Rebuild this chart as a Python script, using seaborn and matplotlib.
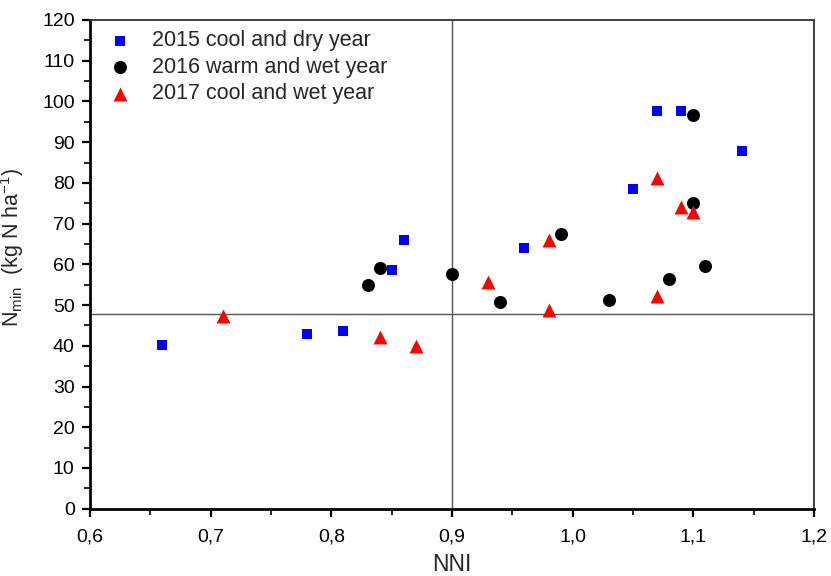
import matplotlib
matplotlib.use("Agg")
import matplotlib.pyplot as plt
import seaborn as sns
import pandas as pd
from matplotlib.ticker import MultipleLocator

# ---- data ----
series_labels = ["2015 cool and dry year", "2016 warm and wet year", "2017 cool and wet year"]

nni_2015 = [0.66, 0.78, 0.81, 0.85, 0.86, 0.96, 1.05, 1.07, 1.09, 1.14]
nmin_2015 = [40.2, 43.0, 43.7, 58.6, 66.0, 64.1, 78.6, 97.7, 97.7, 87.8]

nni_2016 = [0.83, 0.84, 0.90, 0.94, 0.99, 1.03, 1.08, 1.10, 1.10, 1.11]
nmin_2016 = [55.0, 59.1, 57.6, 50.7, 67.4, 51.3, 56.4, 96.6, 75.1, 59.7]

nni_2017 = [0.71, 0.84, 0.87, 0.93, 0.98, 0.98, 1.07, 1.07, 1.09, 1.10]
nmin_2017 = [47.3, 42.1, 40.0, 55.6, 66.0, 48.8, 81.2, 52.3, 74.2, 72.8]

ref_nni = 0.9
ref_nmin = 47.8

x_ticks = [0.6, 0.7, 0.8, 0.9, 1.0, 1.1, 1.2]
x_tick_labels = ["0,6", "0,7", "0,8", "0,9", "1,0", "1,1", "1,2"]
y_ticks = [0, 10, 20, 30, 40, 50, 60, 70, 80, 90, 100, 110, 120]
y_tick_labels = [str(v) for v in y_ticks]

# ---- style ----
sns.set_style("ticks")
plt.rcParams["font.family"] = ["Liberation Sans", "DejaVu Sans"]
plt.rcParams["mathtext.fontset"] = "custom"
plt.rcParams["mathtext.rm"] = "Liberation Sans"
plt.rcParams["mathtext.it"] = "Liberation Sans:italic"

df = pd.concat([
    pd.DataFrame({"NNI": nni_2015, "Nmin": nmin_2015, "series": series_labels[0]}),
    pd.DataFrame({"NNI": nni_2016, "Nmin": nmin_2016, "series": series_labels[1]}),
    pd.DataFrame({"NNI": nni_2017, "Nmin": nmin_2017, "series": series_labels[2]}),
])

styles = {
    series_labels[0]: dict(marker="s", color="#0000FF", s=62),
    series_labels[1]: dict(marker="o", color="#000000", s=88),
    series_labels[2]: dict(marker="^", color="#FF0000", s=100),
}

fig = plt.figure(figsize=(8.31, 5.76), dpi=100)
ax = fig.add_axes([90 / 831, 1 - 508.7 / 576, (814 - 90) / 831, (508.7 - 20) / 576])

ax.axvline(ref_nni, color="#555555", lw=1.0, zorder=1)
ax.axhline(ref_nmin, color="#555555", lw=1.0, zorder=1)

for lab in series_labels:
    sub = df[df["series"] == lab]
    st = styles[lab]
    sns.scatterplot(data=sub, x="NNI", y="Nmin", marker=st["marker"], color=st["color"],
                    s=st["s"], linewidth=0, label=lab, ax=ax, zorder=3)

ax.set_xlim(0.6, 1.2)
ax.set_ylim(0, 120)
ax.set_xticks(x_ticks)
ax.set_xticklabels(x_tick_labels)
ax.set_yticks(y_ticks)
ax.set_yticklabels(y_tick_labels)
ax.xaxis.set_minor_locator(MultipleLocator(0.05))
ax.yaxis.set_minor_locator(MultipleLocator(5))
ax.tick_params(which="major", direction="out", length=6, width=1.6, labelsize=14, colors="black", pad=5)
ax.tick_params(axis="x", which="major", pad=8)
ax.tick_params(which="minor", direction="out", length=4, width=1.4)
ax.tick_params(top=False, right=False, which="both")

for side in ["left", "bottom"]:
    ax.spines[side].set_linewidth(2.0)
    ax.spines[side].set_color("black")
for side in ["top", "right"]:
    ax.spines[side].set_linewidth(1.3)
    ax.spines[side].set_color("#333333")
    ax.spines[side].set_visible(True)

ax.set_xlabel("NNI", fontsize=16.5, labelpad=6)
ax.set_ylabel(r"N$_{\rm min}$  (kg N ha$^{-1}$)", fontsize=15.5)
ax.yaxis.set_label_coords(-0.088, 0.535)

leg = ax.legend(loc="upper left", frameon=False, fontsize=15.5, handletextpad=1.0,
                labelspacing=0.26, borderaxespad=0.3, bbox_to_anchor=(0.006, 1.01),
                handlelength=1.0)

fig.savefig("out.png", dpi=100)
